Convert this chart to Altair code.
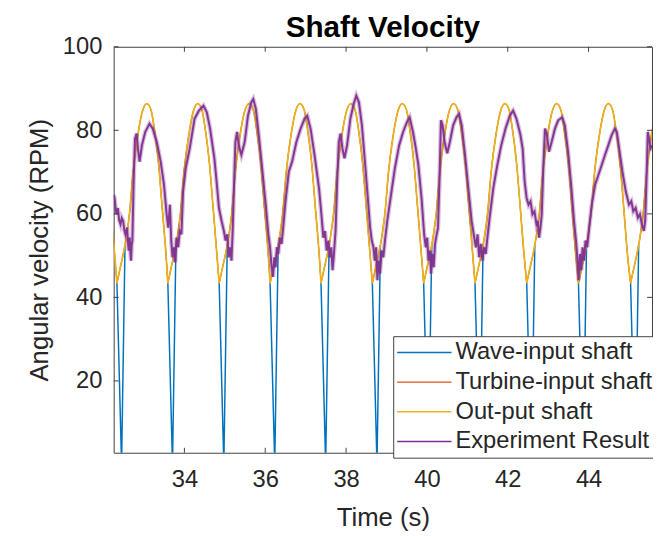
import altair as alt
import pandas as pd

FONT = "Liberation Sans"
INK = "#262626"
FRAME = "#404040"

names = ["Wave-input shaft", "Turbine-input shaft", "Out-put shaft", "Experiment Result"]
colors = ["#0072BD", "#D95319", "#EDB120", "#7E2F8E"]

x_ticks = [34, 36, 38, 40, 42, 44]
y_ticks = [20, 40, 60, 80, 100]
x_domain = [32.25, 45.57]
y_domain = [2.8, 100]

# Out-put shaft troughs (s)
trough_times = [31.06, 32.33, 33.59, 34.86, 36.12, 37.38, 38.65, 39.92, 41.19, 42.47, 43.75, 45.04, 46.31]
trough_rpm = 43.4
# one cycle of the simulated shafts, seconds after a trough
cycle_dt = [0.00, 0.08, 0.17, 0.25, 0.31, 0.40, 0.52, 0.63, 0.74, 0.84, 0.93, 1.03, 1.12, 1.22]
cycle_rpm = [43.4, 47.0, 51.0, 55.5, 60.0, 70.0, 79.0, 84.5, 86.4, 85.0, 80.0, 72.0, 61.5, 49.5]
# wave-input shaft dip at each trough
dip_dt = [0.0, 0.115, 0.20]
dip_rpm = [43.4, 0.0, 52.5]

# Experiment result
exp_t = [32.247, 32.272, 32.300, 32.321, 32.353, 32.385, 32.419, 32.450, 32.484, 32.515, 32.541, 32.581,
         32.605, 32.622, 32.647, 32.665, 32.679, 32.695, 32.712, 32.744, 32.777, 32.818, 32.850, 32.891,
         32.948, 33.030, 33.136, 33.217, 33.315, 33.413, 33.494, 33.560, 33.600, 33.641, 33.674, 33.706,
         33.739, 33.771, 33.804, 33.845, 33.885, 33.926, 33.967, 34.032, 34.130, 34.252, 34.358, 34.472,
         34.554, 34.635, 34.741, 34.773, 34.855, 34.920, 34.977, 35.018, 35.059, 35.099, 35.132, 35.165,
         35.197, 35.230, 35.262, 35.303, 35.344, 35.409, 35.491, 35.572, 35.654, 35.703, 35.768, 35.849,
         35.931, 36.012, 36.077, 36.118, 36.159, 36.192, 36.224, 36.257, 36.289, 36.322, 36.363, 36.403,
         36.444, 36.501, 36.583, 36.664, 36.770, 36.876, 36.974, 37.039, 37.121, 37.219, 37.290, 37.332,
         37.389, 37.438, 37.479, 37.520, 37.560, 37.601, 37.634, 37.666, 37.699, 37.740, 37.780, 37.821,
         37.862, 37.911, 37.960, 38.025, 38.107, 38.188, 38.253, 38.318, 38.392, 38.473, 38.538, 38.595,
         38.636, 38.677, 38.710, 38.742, 38.775, 38.807, 38.840, 38.881, 38.921, 38.962, 39.019, 39.101,
         39.207, 39.313, 39.411, 39.508, 39.573, 39.655, 39.720, 39.785, 39.867, 39.932, 39.973, 40.006,
         40.038, 40.071, 40.103, 40.136, 40.169, 40.201, 40.242, 40.275, 40.315, 40.348, 40.389, 40.437,
         40.503, 40.568, 40.649, 40.731, 40.796, 40.861, 40.943, 41.024, 41.106, 41.171, 41.212, 41.253,
         41.293, 41.334, 41.375, 41.416, 41.456, 41.497, 41.562, 41.644, 41.742, 41.839, 41.945, 42.051,
         42.133, 42.214, 42.312, 42.369, 42.418, 42.467, 42.515, 42.564, 42.613, 42.662, 42.711, 42.744,
         42.776, 42.809, 42.842, 42.882, 42.923, 42.972, 43.021, 43.086, 43.168, 43.249, 43.347, 43.412,
         43.493, 43.575, 43.640, 43.689, 43.722, 43.754, 43.787, 43.820, 43.852, 43.885, 43.925, 43.966,
         44.015, 44.080, 44.162, 44.243, 44.325, 44.406, 44.488, 44.569, 44.651, 44.700, 44.757, 44.838,
         44.920, 45.001, 45.058, 45.107, 45.164, 45.221, 45.271, 45.319, 45.368, 45.401, 45.433, 45.466,
         45.498, 45.531, 45.580]
exp_rpm = [64.5, 63.8, 61.0, 59.9, 61.4, 58.5, 57.5, 59.0, 58.3, 56.0, 55.1, 56.7,
           53.0, 51.2, 54.3, 50.5, 48.8, 52.5, 53.6, 67.8, 78.0, 79.2, 75.6, 72.5,
           76.4, 79.6, 81.6, 80.4, 77.2, 72.5, 67.0, 59.9, 56.7, 62.2, 53.6, 49.6,
           52.0, 48.4, 54.3, 52.0, 55.9, 55.1, 65.4, 70.9, 75.6, 82.8, 84.7, 85.9,
           84.3, 80.4, 73.3, 70.1, 61.4, 58.3, 55.9, 53.6, 55.1, 49.6, 52.0, 48.8,
           56.7, 67.8, 77.2, 79.6, 76.4, 74.1, 77.2, 83.5, 86.7, 87.5, 85.1, 78.0,
           70.1, 62.2, 55.1, 52.0, 47.2, 44.9, 49.6, 47.2, 52.0, 50.4, 54.3, 52.8,
           56.7, 63.0, 70.1, 72.5, 77.2, 80.4, 82.8, 83.5, 80.4, 74.1, 69.0, 66.0,
           59.9, 54.3, 55.9, 51.2, 53.6, 49.6, 52.0, 46.5, 50.4, 55.9, 67.8, 77.2,
           79.2, 75.6, 73.3, 76.4, 82.8, 86.3, 88.3, 86.7, 81.2, 71.7, 63.8, 56.7,
           53.6, 52.0, 48.8, 52.0, 44.1, 48.8, 45.7, 51.2, 49.6, 53.6, 58.3, 63.8,
           70.9, 76.4, 79.6, 82.0, 83.1, 79.6, 76.0, 72.0, 63.8, 55.1, 52.0, 54.3,
           48.8, 51.2, 45.7, 50.4, 47.2, 52.8, 55.1, 56.7, 69.3, 82.4, 81.2, 77.2,
           74.5, 77.2, 81.2, 83.1, 83.9, 81.2, 74.1, 66.2, 58.3, 54.3, 52.0, 55.1,
           49.6, 52.8, 48.8, 52.0, 50.4, 54.3, 59.9, 66.2, 71.7, 76.4, 80.4, 83.5,
           84.7, 82.8, 79.0, 75.6, 67.8, 63.8, 62.2, 63.0, 59.9, 60.6, 57.5, 58.3,
           54.3, 56.7, 59.9, 71.7, 80.4, 78.8, 74.9, 77.2, 80.4, 82.4, 83.1, 81.2,
           74.9, 66.2, 58.3, 53.6, 49.6, 44.1, 50.4, 46.5, 52.0, 48.8, 53.6, 52.0,
           56.7, 62.2, 67.0, 69.3, 71.7, 74.1, 76.4, 78.8, 80.4, 79.6, 75.6, 70.1,
           65.4, 62.2, 63.0, 60.6, 61.4, 59.1, 59.9, 57.5, 55.9, 58.3, 67.8, 79.6,
           78.0, 75.6, 76.4]


def model_frame(series):
    rows = []
    for k in range(len(trough_times) - 1):
        t0 = trough_times[k]
        for dt, v in zip(cycle_dt, cycle_rpm):
            rows.append({"t": t0 + dt, "rpm": v, "cycle": k, "series": series})
        rows.append({"t": trough_times[k + 1], "rpm": trough_rpm, "cycle": k, "series": series})
    return pd.DataFrame(rows)


dip_rows = []
for k, t0 in enumerate(trough_times):
    for dt, v in zip(dip_dt, dip_rpm):
        dip_rows.append({"t": t0 + dt, "rpm": v, "cycle": k, "series": names[0]})
dip_df = pd.DataFrame(dip_rows)

exp_df = pd.DataFrame({"t": exp_t, "rpm": exp_rpm, "series": names[3]})
xt_df = pd.DataFrame({"t": x_ticks})
yt_df = pd.DataFrame({"rpm": y_ticks})

axis_style = dict(
    ticks=False, domain=False, grid=False,
    labelFont=FONT, titleFont=FONT, labelFontSize=24, titleFontSize=26,
    labelColor=INK, titleColor=INK, titleFontWeight="normal",
)
xscale = alt.Scale(domain=x_domain, nice=False, zero=False)
yscale = alt.Scale(domain=y_domain, nice=False, zero=False)
xaxis = alt.Axis(values=x_ticks, format="d", title="Time (s)", labelPadding=15, titlePadding=14, **axis_style)
yaxis = alt.Axis(values=y_ticks, format="d", title="Angular velocity (RPM)", labelPadding=12,
                 titlePadding=10, **axis_style)
X = alt.X("t:Q", scale=xscale, axis=xaxis)
Y = alt.Y("rpm:Q", scale=yscale, axis=yaxis)

color = alt.Color(
    "series:N",
    scale=alt.Scale(domain=names, range=colors),
    legend=alt.Legend(
        title=None, orient="none", legendX=283, legendY=293,
        symbolType="stroke", symbolSize=3025, symbolStrokeWidth=1.5, symbolOpacity=1,
        labelFontSize=24, labelFont=FONT, labelColor=INK, labelOffset=3, labelLimit=400,
        padding=3, rowPadding=3, clipHeight=27,
        strokeColor=FRAME, fillColor="white",
    ),
)

def model_line(series, width):
    return alt.Chart(model_frame(series)).mark_line(
        interpolate="monotone", strokeWidth=width, clip=True
    ).encode(x=X, y=Y, color=color, detail="cycle:N")

blue_full = model_line(names[0], 1.0)
blue_dips = alt.Chart(dip_df).mark_line(strokeWidth=1.5, clip=True).encode(
    x=X, y=Y, color=color, detail="cycle:N")
red = model_line(names[1], 1.0)
yellow = model_line(names[2], 1.8)
purple_halo = alt.Chart(exp_df).mark_line(strokeWidth=4.5, clip=True, opacity=0.3).encode(
    x=X, y=Y, color=color)
purple = alt.Chart(exp_df).mark_line(strokeWidth=2, clip=True, opacity=0.95).encode(
    x=X, y=Y, color=color)

tick_len = 5
top_ticks = alt.Chart(xt_df).mark_rule(color=FRAME, strokeWidth=1).encode(
    x=X, y=alt.value(0), y2=alt.value(tick_len))
bottom_ticks = alt.Chart(xt_df).mark_rule(color=FRAME, strokeWidth=1).encode(
    x=X, y=alt.value(411), y2=alt.value(411 - tick_len))
left_ticks = alt.Chart(yt_df).mark_rule(color=FRAME, strokeWidth=1).encode(
    y=Y, x=alt.value(0), x2=alt.value(tick_len))
right_ticks = alt.Chart(yt_df).mark_rule(color=FRAME, strokeWidth=1).encode(
    y=Y, x=alt.value(545), x2=alt.value(545 - tick_len))

chart = alt.layer(
    blue_full, blue_dips, red, yellow, purple_halo, purple,
    top_ticks, bottom_ticks, left_ticks, right_ticks,
).properties(
    width=545,
    height=411,
    title=alt.Title("Shaft Velocity", fontSize=30, fontWeight="bold", font=FONT, color="#000000",
                    anchor="middle", frame="group", offset=4, dy=12),
    padding={"left": 107, "top": 36, "right": 1, "bottom": 80},
    autosize=alt.AutoSizeParams(type="none"),
    background="white",
).configure_view(
    stroke=FRAME, strokeWidth=1
)

chart.save("out.html", embed_options={"renderer": "svg", "actions": False})
